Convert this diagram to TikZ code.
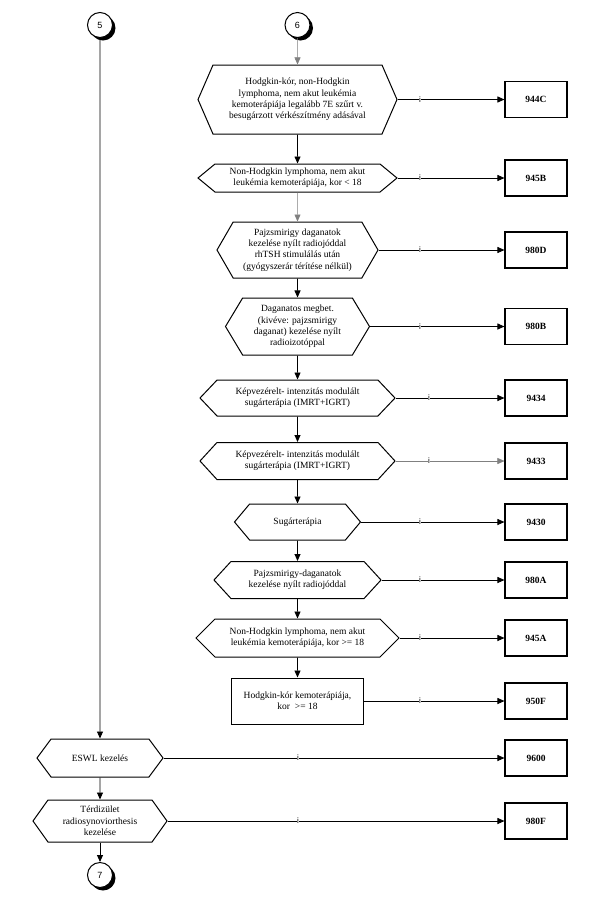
\documentclass[tikz,border=0pt]{standalone}
\usepackage{fontspec}
\setmainfont{Liberation Serif}
\newfontfamily\numfont{Liberation Sans}
\usetikzlibrary{arrows.meta,shapes.symbols,shadows}

\begin{document}
\begin{tikzpicture}[x=1pt,y=-1pt,>={Triangle[length=7pt,width=6pt]},
  every node/.style={font=\fontsize{9.5}{11.4}\selectfont},
  hexa/.style={signal,signal to=west and east,draw,line width=1pt,align=center,inner sep=1pt},
  rectbox/.style={rectangle,draw,line width=1pt,align=center},
  codebox/.style={rectangle,draw,line width=1.1pt,minimum width=62pt,minimum height=36pt,
    font=\fontsize{9.5}{11.4}\selectfont\bfseries},
  onpage/.style={circle,draw,line width=1pt,fill=white,minimum size=25pt,inner sep=0pt,
    font=\numfont\fontsize{9}{9}\selectfont,
    drop shadow={fill=black,opacity=1,shadow xshift=3pt,shadow yshift=-3pt}},
  arr/.style={->,line width=0.9pt},
  garr/.style={->,line width=0.5pt,gray},
  ilab/.style={fill=white,inner xsep=0.6pt,inner ysep=0pt,font=\numfont\fontsize{8}{8}\selectfont}]
  \useasboundingbox (0,0) rectangle (600,914);
  % page connectors
  \node[onpage] (n5) at (100,25) {5};
  \node[onpage] (n6) at (297.5,25) {6};
  \node[onpage] (n7) at (100,875) {7};
  % right column
  \node[hexa,minimum width=199pt,minimum height=69pt,signal pointer angle=133] (h1) at (297.5,99.5)
    {Hodgkin-kór, non-Hodgkin\\lymphoma, nem akut leukémia\\kemoterápiája legalább 7E szűrt v.\\besugárzott vérkészítmény adásával};
  \node[hexa,minimum width=199pt,minimum height=28pt,signal pointer angle=79] (h2) at (297.5,178)
    {Non-Hodgkin lymphoma, nem akut\\leukémia kemoterápiája, kor \textless{} 18};
  \node[hexa,minimum width=161pt,minimum height=56pt,signal pointer angle=120] (h3) at (297.5,250)
    {Pajzsmirigy daganatok\\kezelése nyílt radiojóddal\\rhTSH stimulálás után\\(gyógyszerár térítése nélkül)};
  \node[hexa,minimum width=144pt,minimum height=57pt,signal pointer angle=118] (h4) at (297.5,326.5)
    {Daganatos megbet.\\(kivéve: pajzsmirigy\\daganat) kezelése nyílt\\radioizotóppal};
  \node[hexa,minimum width=195pt,minimum height=36pt,signal pointer angle=93] (h5) at (297.5,398)
    {Képvezérelt- intenzitás modulált\\sugárterápia (IMRT+IGRT)};
  \node[hexa,minimum width=195pt,minimum height=37pt,signal pointer angle=95] (h6) at (297.5,461)
    {Képvezérelt- intenzitás modulált\\sugárterápia (IMRT+IGRT)};
  \node[hexa,minimum width=126pt,minimum height=36pt,signal pointer angle=100] (h7) at (297.5,522)
    {Sugárterápia};
  \node[hexa,minimum width=167pt,minimum height=37pt,signal pointer angle=95] (h8) at (297.5,580)
    {Pajzsmirigy-daganatok\\kezelése nyílt radiojóddal};
  \node[hexa,minimum width=203pt,minimum height=38pt,signal pointer angle=90] (h9) at (297.5,638)
    {Non-Hodgkin lymphoma, nem akut\\leukémia kemoterápiája, kor >= 18};
  \node[rectbox,minimum width=132pt,minimum height=46pt] (h10) at (297.5,701)
    {Hodgkin-kór kemoterápiája,\\kor \ >= 18};
  % left column
  \node[hexa,minimum width=126pt,minimum height=38pt,signal pointer angle=107] (h11) at (100,758)
    {ESWL kezelés};
  \node[hexa,minimum width=134pt,minimum height=42pt,signal pointer angle=109] (h12) at (100,821)
    {Térdizület\\radiosynoviorthesis\\kezelése};
  % columns for codes and labels
  \coordinate (kcol) at (536,0);
  \coordinate (ia) at (420,0);
  \coordinate (ib) at (429,0);
  \coordinate (ic) at (298,0);
  \foreach \i/\txt/\icol/\st in {1/944C/ia/arr,2/945B/ia/arr,3/980D/ia/arr,4/980B/ia/arr,
      5/9434/ib/arr,6/9433/ib/garr,7/9430/ia/arr,8/980A/ia/arr,9/945A/ia/arr,10/950F/ia/arr,
      11/9600/ic/arr,12/980F/ic/arr} {
    \node[codebox] (k\i) at (h\i -| kcol) {\txt};
    \draw[\st] (h\i.east) -- (k\i.west);
    \node[ilab] at (h\i -| \icol) {i};
  }
  % flow
  \draw[garr] (n6) -- (h1);
  \draw[arr] (h1) -- (h2);
  \draw[garr] (h2) -- (h3);
  \foreach \a/\b in {3/4,4/5,5/6,6/7,7/8,8/9,9/10}
    \draw[arr] (h\a) -- (h\b);
  \draw[arr] (n5) -- (h11);
  \draw[arr] (h11) -- (h12);
  \draw[arr] (h12) -- (n7);
\end{tikzpicture}
\end{document}
